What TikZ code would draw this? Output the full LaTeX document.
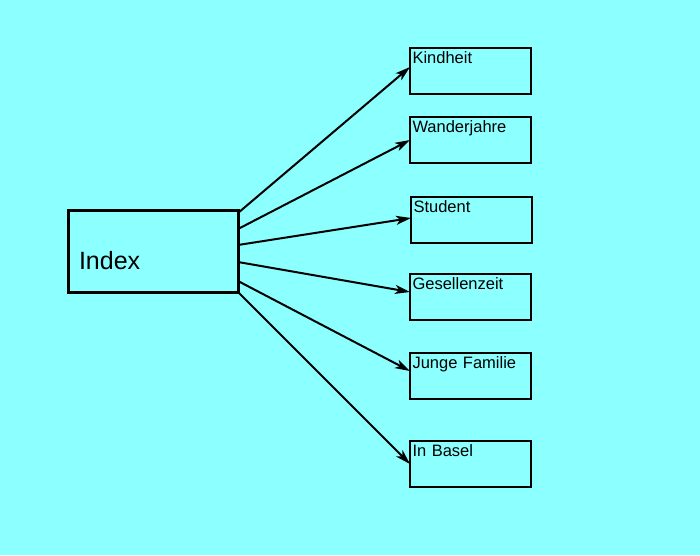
\documentclass[tikz,border=0pt]{standalone}
\usepackage{fontspec}
\setmainfont{Liberation Sans}
\usetikzlibrary{arrows.meta, positioning}
\definecolor{bgcyan}{HTML}{8CFFFF}

\begin{document}
\begin{tikzpicture}[
  x=1pt, y=-1pt,
  part/.style={draw, line width=2pt, anchor=north west, align=left, outer sep=0pt,
    inner xsep=2.5pt, inner ysep=3pt, text width=116pt,
    text height=12pt, text depth=28pt, font=\fontsize{16.5}{18}\selectfont},
  link/.style={line width=2pt, -{Stealth[length=15pt, width=9pt, inset=4pt]}}
]
  % Background
  \fill[bgcyan] (0,0) rectangle (700,555);
  \useasboundingbox (0,0) rectangle (700,555);

  % Index box (left)
  \node[draw, line width=3pt, anchor=north west, align=left, outer sep=0pt,
    inner xsep=11pt, inner ysep=0pt, text width=148pt,
    text height=59pt, text depth=23pt, font=\fontsize{25}{27}\selectfont]
    (index) at (68,210) {Index};

  % Chapters (right)
  \node[part] (kindheit) at (410,48) {Kindheit};
  \node[part] (wander) at (410,117) {Wanderjahre};
  \node[part] (student) at (411,197) {Student};
  \node[part] (gesellen) at (410,274) {Gesellenzeit};
  \node[part] (familie) at (410,353) {Junge Familie};
  \node[part] (basel) at (410,441) {In Basel};

  % Arrows
  \draw[link] ([yshift=38pt]index.east) -- ([yshift=4pt]kindheit.west);
  \draw[link] ([yshift=22pt]index.east) -- (wander.west);
  \draw[link] ([yshift=6pt]index.east) -- ([yshift=2pt]student.west);
  \draw[link] ([yshift=-11pt]index.east) -- ([yshift=5pt]gesellen.west);
  \draw[link] ([yshift=-30pt]index.east) -- ([yshift=5pt]familie.west);
  \draw[link] (index.south east) -- (basel.west);
\end{tikzpicture}
\end{document}
